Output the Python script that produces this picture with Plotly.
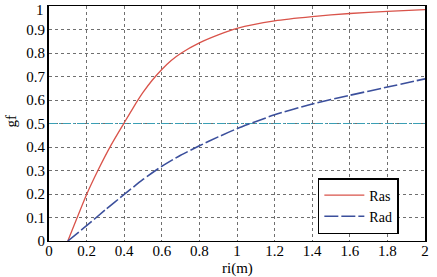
import plotly.graph_objects as go

ras_x = [0.1, 0.15, 0.2, 0.26, 0.33, 0.4, 0.45, 0.5, 0.55, 0.6, 0.65, 0.7, 0.8, 0.9, 1.0, 1.2, 1.4, 1.6, 1.8, 2.0]
ras_y = [0.0, 0.1, 0.198, 0.3, 0.408, 0.503, 0.57, 0.632, 0.685, 0.73, 0.768, 0.798, 0.843, 0.877, 0.905, 0.937, 0.955, 0.968, 0.977, 0.985]
rad_x = [0.1, 0.2, 0.3, 0.4, 0.5, 0.6, 0.7, 0.8, 0.9, 1.0, 1.2, 1.4, 1.6, 1.8, 2.0]
rad_y = [0.0, 0.065, 0.133, 0.198, 0.262, 0.318, 0.365, 0.405, 0.443, 0.478, 0.537, 0.583, 0.62, 0.655, 0.69]
ref_x = [0, 2]
ref_y = [0.5, 0.5]
x_ticks = [0, 0.2, 0.4, 0.6, 0.8, 1, 1.2, 1.4, 1.6, 1.8, 2]
x_tick_text = ["0", "0.2", "0.4", "0.6", "0.8", "1", "1.2", "1.4", "1.6", "1.8", "2"]
y_ticks = [0, 0.1, 0.2, 0.3, 0.4, 0.5, 0.6, 0.7, 0.8, 0.9, 1]
y_tick_text = ["0", "0.1", "0.2", "0.3", "0.4", "0.5", "0.6", "0.7", "0.8", "0.9", "1"]

font = "Liberation Serif"
fig = go.Figure()
fig.add_trace(go.Scatter(x=ref_x, y=ref_y, mode="lines", showlegend=False,
                         line=dict(color="#3a9fb5", width=1.2, dash="8px,2px,2px,2px")))
fig.add_trace(go.Scatter(x=ras_x, y=ras_y, mode="lines", name="Ras",
                         line=dict(color="#d9534a", width=1.3, shape="spline", smoothing=0.6)))
fig.add_trace(go.Scatter(x=rad_x, y=rad_y, mode="lines", name="Rad",
                         line=dict(color="#3b4f9c", width=1.6, dash="14px,3px", shape="spline", smoothing=0.6)))

# axis titles placed as annotations so the plot area keeps its position
fig.add_annotation(x=0.5, y=-0.115, xref="paper", yref="paper", text="ri(m)", showarrow=False,
                   xanchor="center", yanchor="middle",
                   font=dict(family=font, size=15, color="black"))
fig.add_annotation(x=-0.1, y=0.51, xref="paper", yref="paper", text="gf", showarrow=False,
                   xanchor="center", yanchor="middle", textangle=-90,
                   font=dict(family=font, size=15, color="black"))
# top tick label (plotly drops it because it would cross the page edge)
fig.add_annotation(x=0, y=1, xref="paper", yref="paper", text=y_tick_text[-1], showarrow=False,
                   xanchor="right", yanchor="top", xshift=-3, yshift=6,
                   font=dict(family=font, size=15, color="black"))

fig.update_layout(
    width=437, height=277,
    margin=dict(l=49, r=12, t=6, b=36, autoexpand=False),
    paper_bgcolor="white", plot_bgcolor="white",
    font=dict(family=font, size=15, color="black"),
    legend=dict(x=0.715, y=0.268, xanchor="left", yanchor="top",
                bordercolor="black", borderwidth=1.5, bgcolor="white",
                tracegroupgap=0, itemwidth=40, entrywidth=62,
                font=dict(family=font, size=14)),
    xaxis=dict(range=[0, 2], tickvals=x_ticks, ticktext=x_tick_text,
               showgrid=True, gridcolor="#6f6f6f", griddash="dot", gridwidth=1,
               showline=True, linecolor="black", linewidth=1, mirror=True,
               zeroline=False, ticks="", ticklabelstandoff=-4, automargin=False),
    yaxis=dict(range=[0, 1], tickvals=y_ticks, ticktext=y_tick_text,
               showgrid=True, gridcolor="#6f6f6f", griddash="dot", gridwidth=1,
               showline=True, linecolor="black", linewidth=2, mirror=True,
               zeroline=False, ticks="", ticklabelstandoff=-1, automargin=False),
)
fig.write_html("out.html", config={"displayModeBar": False},
               post_script="document.body.style.margin='0';")
